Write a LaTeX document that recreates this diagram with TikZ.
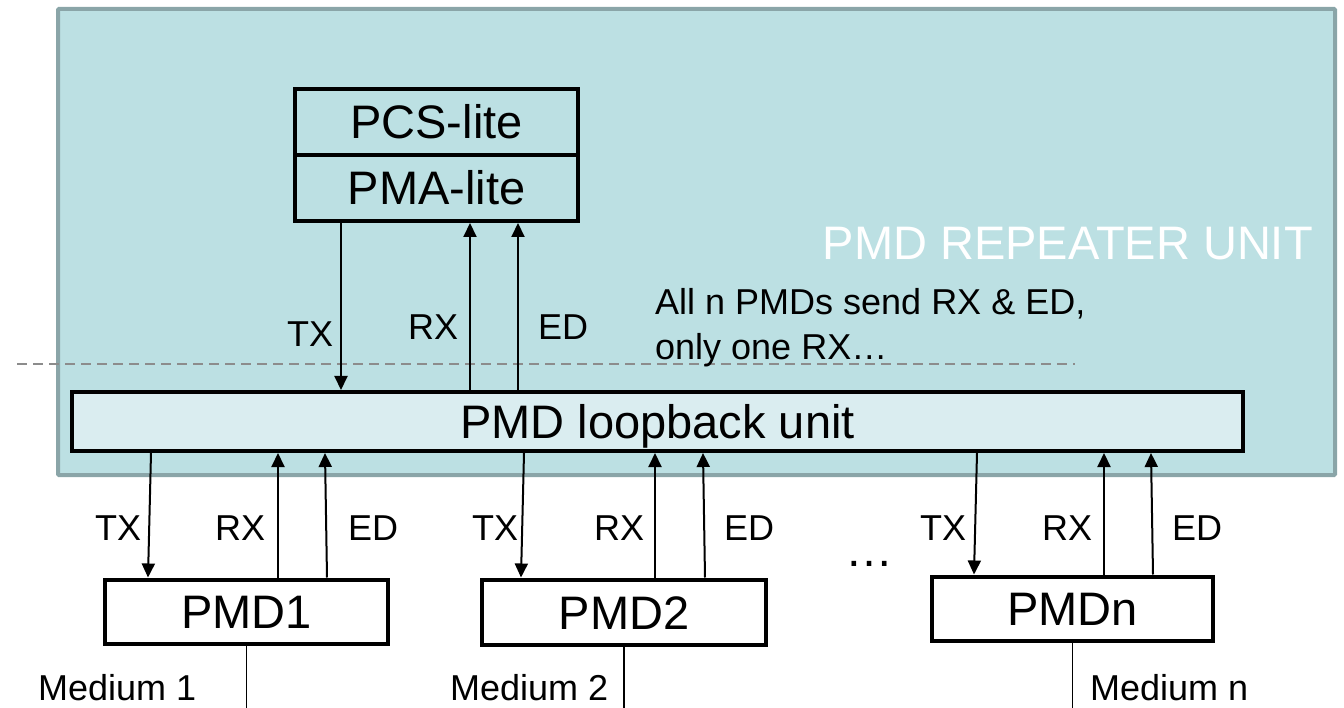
\documentclass[tikz,border=0pt]{standalone}
\usepackage{fontspec}
\setmainfont{Liberation Sans}
\usetikzlibrary{arrows.meta}
\definecolor{rptfill}{HTML}{BCE0E3}
\definecolor{rptdraw}{HTML}{8AA5A8}
\definecolor{loopfill}{HTML}{DAEDF0}
\definecolor{dashgray}{HTML}{8C8C8C}
\tikzset{
  blk/.style={draw=black, line width=4pt, rectangle, inner sep=0pt,
    font=\fontsize{47}{56}\selectfont, text height=34pt, text depth=0pt},
  sig/.style={line width=2pt, -{Triangle[length=14pt,width=13pt]}},
  lbl/.style={font=\fontsize{36}{43}\selectfont, inner sep=0pt, anchor=base west},
  medline/.style={line width=1.5pt},
}
\begin{document}
\begin{tikzpicture}[x=1pt,y=-1pt]
\useasboundingbox (0,0) rectangle (1344,708);
% repeater unit
\node[draw=rptdraw, fill=rptfill, line width=4pt, rounded corners=1pt,
  minimum width=1277pt, minimum height=466pt, inner sep=0pt] (rpt) at (696.5,242) {};
\node[font=\fontsize{47}{56}\selectfont, text=white, inner sep=0pt, anchor=base east]
  (rptlbl) at (1313,260) {PMD REPEATER UNIT};
% dashed separation
\coordinate (dashL) at (17,364);
\coordinate (dashR) at (1075,364);
\draw[dashgray, line width=1.5pt, dash pattern=on 10pt off 6pt] (dashL) -- (dashR);
% upper blocks
\node[blk, minimum width=283pt, minimum height=66pt] (pcs) at (436.5,122) {PCS-lite};
\node[blk, minimum width=283pt, minimum height=66pt] (pma) at (436.5,188) {PMA-lite};
\node[blk, fill=loopfill, minimum width=1171pt, minimum height=59pt] (loop) at (657.5,421.5) {PMD loopback unit};
% note
\node[lbl] (note1) at (655,315) {All n PMDs send RX \& ED,};
\node[lbl] (note2) at (655,360) {only one RX…};
% PMDs
\node[blk, fill=white, minimum width=283pt, minimum height=64pt] (pmd1) at (246.5,611.5) {PMD1};
\node[blk, fill=white, minimum width=284pt, minimum height=65pt] (pmd2) at (624,612) {PMD2};
\node[blk, fill=white, minimum width=281pt, minimum height=64pt] (pmdn) at (1072.5,608.5) {PMDn};
% upper signals
\draw[sig] ([xshift=-95.5pt]pma.south) -- ([xshift=-316.5pt]loop.north);
\draw[sig] ([xshift=-187.5pt]loop.north) -- ([xshift=33.5pt]pma.south);
\draw[sig] ([xshift=-139.5pt]loop.north) -- ([xshift=81.5pt]pma.south);
\node[lbl] (tx0) at (287,347) {TX};
\node[lbl] (rx0) at (408,340) {RX};
\node[lbl] (ed0) at (538,340) {ED};
% PMD1 signals
\draw[sig] ([xshift=-506.5pt]loop.south) -- ([xshift=-98.5pt]pmd1.north);
\draw[sig] ([xshift=31.5pt]pmd1.north) -- ([xshift=-379.5pt]loop.south);
\draw[sig] ([xshift=80.5pt]pmd1.north) -- ([xshift=-332.5pt]loop.south);
\node[lbl] (tx1) at (95,540) {TX};
\node[lbl] (rx1) at (215,540) {RX};
\node[lbl] (ed1) at (348,540) {ED};
% PMD2 signals
\draw[sig] ([xshift=-133.5pt]loop.south) -- ([xshift=-103pt]pmd2.north);
\draw[sig] ([xshift=31pt]pmd2.north) -- ([xshift=-2.5pt]loop.south);
\draw[sig] ([xshift=81pt]pmd2.north) -- ([xshift=45.5pt]loop.south);
\node[lbl] (tx2) at (472,540) {TX};
\node[lbl] (rx2) at (594,540) {RX};
\node[lbl] (ed2) at (724,540) {ED};
% PMDn signals
\draw[sig] ([xshift=319.5pt]loop.south) -- ([xshift=-98.5pt]pmdn.north);
\draw[sig] ([xshift=31.5pt]pmdn.north) -- ([xshift=446.5pt]loop.south);
\draw[sig] ([xshift=80.5pt]pmdn.north) -- ([xshift=493.5pt]loop.south);
\node[lbl] (txn) at (920,540) {TX};
\node[lbl] (rxn) at (1042,540) {RX};
\node[lbl] (edn) at (1172,540) {ED};
\node[lbl, font=\fontsize{48}{56}\selectfont] (dots) at (845,566) {…};
% media
\coordinate (m1) at (246.5,708);
\coordinate (m2) at (624,708);
\coordinate (mn) at (1072.5,708);
\draw[medline] (pmd1.south) -- (m1);
\draw[medline] (pmd2.south) -- (m2);
\draw[medline] (pmdn.south) -- (mn);
\node[lbl] (med1) at (38,700) {Medium 1};
\node[lbl] (med2) at (450,700) {Medium 2};
\node[lbl] (medn) at (1090,700) {Medium n};
\end{tikzpicture}
\end{document}
